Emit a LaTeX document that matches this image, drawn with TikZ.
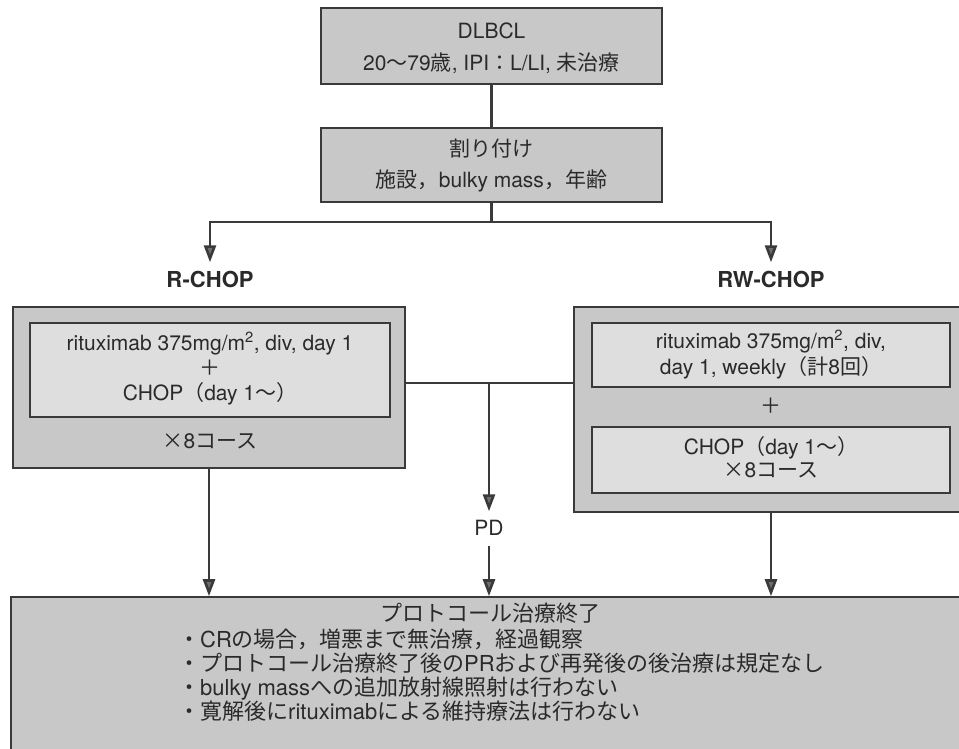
\documentclass[tikz,border=0pt]{standalone}
\usepackage{fontspec}
\setmainfont{TeX Gyre Heros}
\newfontfamily\jpf{Noto Sans CJK JP}
\newcommand{\jtxt}[1]{{\jpf #1}}
\usetikzlibrary{arrows.meta}
\definecolor{boxgray}{HTML}{C8C8C8}
\definecolor{innergray}{HTML}{DEDEDE}
\definecolor{linegray}{HTML}{3A3A3A}
\definecolor{txt}{HTML}{2A2A2A}
\definecolor{headgray}{HTML}{6E6E6E}
\begin{document}
\begin{tikzpicture}[x=1pt,y=-1pt,
  outerbox/.style={draw=linegray, line width=1.6pt, fill=boxgray, inner sep=0pt},
  innerbox/.style={draw=linegray, line width=1.3pt, fill=innergray, inner sep=0pt},
  conn/.style={draw=linegray, line width=2.6pt},
  arr/.style={conn, -{Triangle[width=12pt,length=17pt,fill=headgray]}},
  lbl/.style={text=txt, font=\fontsize{21}{25}\selectfont, inner sep=0pt, text height=15pt, text depth=4pt},
  botlbl/.style={lbl, font=\fontsize{22}{26}\selectfont},
  blbl/.style={lbl, font=\fontsize{22}{26}\selectfont\bfseries},
]
\useasboundingbox (0,0) rectangle (959,749);
\clip (0,0) rectangle (959,749);

% top boxes
\node[outerbox, minimum width=341pt, minimum height=76pt] (top) at (491.5,46) {};
\node[lbl] (t1) at (491.5,33) {DLBCL};
\node[lbl] (t2) at (491.5,65) {20\jtxt{～}79\jtxt{歳}, IPI\jtxt{：}L/LI, \jtxt{未治療}};

\node[outerbox, minimum width=341pt, minimum height=74pt] (rand) at (491.5,165) {};
\node[lbl] (r1) at (491.5,151) {\jtxt{割り付け}};
\node[lbl] (r2) at (491.5,182) {\jtxt{施設，}bulky mass\jtxt{，年齢}};

\coordinate (split) at (491.5,222);

% arm labels
\node[blbl] (rl) at (210,282) {R-CHOP};
\node[blbl] (rwl) at (771,282) {RW-CHOP};

% R-CHOP box
\node[outerbox, minimum width=392pt, minimum height=161pt] (rbox) at (209,387.5) {};
\node[innerbox, minimum width=360pt, minimum height=94pt] (rin) at (210,370) {};
\node[lbl] (ra) at (210,345) {rituximab 375mg/m\textsuperscript{2}, div, day 1};
\node[lbl] (rb) at (210,370) {\jtxt{＋}};
\node[lbl] (rc) at (210,395) {CHOP\jtxt{（}day 1\jtxt{～）}};
\node[lbl] (rd) at (210,443) {\jtxt{×}8\jtxt{コース}};

% RW-CHOP box
\node[outerbox, minimum width=394pt, minimum height=205pt] (rwbox) at (771,409.5) {};
\node[innerbox, minimum width=358pt, minimum height=64pt] (rwin1) at (771,355) {};
\node[lbl] (wa) at (771,343) {rituximab 375mg/m\textsuperscript{2}, div,};
\node[lbl] (wb) at (771,369) {day 1, weekly\jtxt{（計}8\jtxt{回）}};
\node[lbl] (wc) at (771,408) {\jtxt{＋}};
\node[innerbox, minimum width=358pt, minimum height=66pt] (rwin2) at (771,460) {};
\node[lbl] (wd) at (771,449) {CHOP\jtxt{（}day 1\jtxt{～）}};
\node[lbl] (we) at (771,472) {\jtxt{×}8\jtxt{コース}};

% PD
\coordinate (hm) at (489,383);
\node[lbl] (pd) at (489,530) {PD};

% bottom box
\node[outerbox, minimum width=959pt, minimum height=170pt] (bot) at (490.5,682) {};
\node[botlbl] (b0) at (490,616) {\jtxt{プロトコール治療終了}};
\node[botlbl, anchor=west] (b1) at (178,642) {\jtxt{・}CR\jtxt{の場合，増悪まで無治療，経過観察}};
\node[botlbl, anchor=west] (b2) at (178,666) {\jtxt{・プロトコール治療終了後の}PR\jtxt{および再発後の後治療は規定なし}};
\node[botlbl, anchor=west] (b3) at (178,690) {\jtxt{・}bulky mass\jtxt{への追加放射線照射は行わない}};
\node[botlbl, anchor=west] (b4) at (178,714) {\jtxt{・寛解後に}rituximab\jtxt{による維持療法は行わない}};

% connectors
\draw[conn] (top) -- (rand);
\draw[conn] (rand) -- (split);
\draw[arr, shorten >=10pt] (split) -| (rl.north);
\draw[arr, shorten >=10pt] (split) -| (rwl.north);
\draw[conn] (rbox.east |- hm) -- (rwbox.west |- hm);
\draw[arr, shorten >=9pt] (hm) -- (pd.north);
\draw[arr, shorten <=6pt] (pd.south) -- (pd.south |- bot.north);
\draw[arr] (rbox.south) -- (rbox.south |- bot.north);
\draw[arr] (rwbox.south) -- (rwbox.south |- bot.north);
\end{tikzpicture}
\end{document}
